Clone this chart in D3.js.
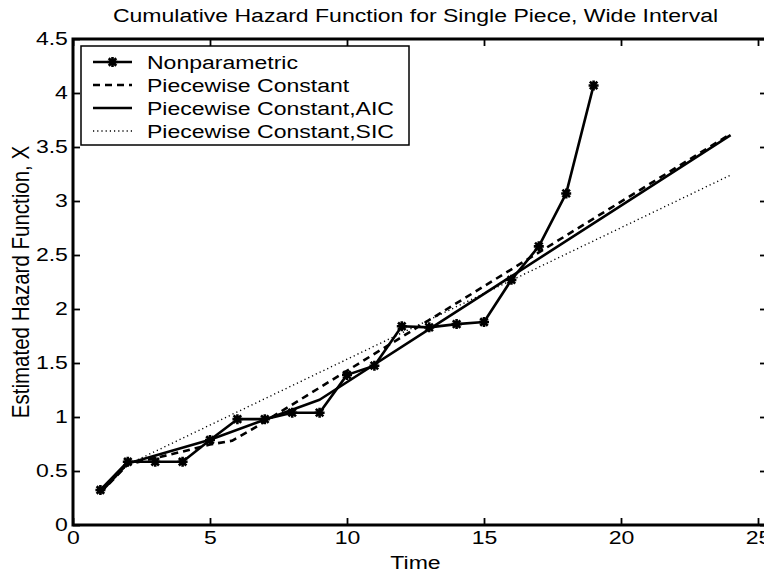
<!DOCTYPE html>
<html>
<head>
<meta charset="utf-8">
<script src="https://cdn.jsdelivr.net/npm/d3@7"></script>
<style>
    body { margin: 0; background: #fff; }
    svg { display: block; }
    text { font-family: "Liberation Sans", Arial, Helvetica, sans-serif; fill: #000; }
</style>
</head>
<body>
<svg id="chart" width="764" height="575"></svg>
<script>
// values
const times = [1, 2, 3, 4, 5, 6, 7, 8, 9, 10, 11, 12, 13, 14, 15, 16, 17, 18, 19];
const nonparametric = [0.324, 0.586, 0.586, 0.586, 0.787, 0.98, 0.98, 1.04, 1.04, 1.39, 1.475, 1.84, 1.83, 1.86, 1.88, 2.27, 2.58, 3.07, 4.07];

const pcTimes = [1, 2, 3, 4, 5, 5.8, 6.5, 24];
const pcValues = [0.30, 0.56, 0.62, 0.68, 0.745, 0.78, 0.88, 3.62];

const aicTimes = [1, 2, 5, 9, 24];
const aicValues = [0.30, 0.57, 0.79, 1.16, 3.61];

const sicTimes = [1, 2, 24];
const sicValues = [0.30, 0.56, 3.24];

const xTicks = [0, 5, 10, 15, 20, 25];
const yTicks = [0, 0.5, 1, 1.5, 2, 2.5, 3, 3.5, 4, 4.5];

const seriesNames = ["Nonparametric", "Piecewise Constant", "Piecewise Constant,AIC", "Piecewise Constant,SIC"];

// the picture is stretched sideways, so text gets a horizontal scale
const stretch = 1.28;
const fontSize = 18;

const margin = {top: 39, right: 6, bottom: 50, left: 73};
const width = 764 - margin.left - margin.right;
const height = 575 - margin.top - margin.bottom;
// the frame in the original runs off the right edge of the image
const frameRight = width + 9;

const x = d3.scaleLinear().domain([0, 25]).range([0, width]);
const y = d3.scaleLinear().domain([0, 4.5]).range([height, 0]);

const svg = d3.select("#chart");
const chart = svg.append("g")
    .attr("transform", "translate(" + margin.left + "," + margin.top + ")");

// axes, ticks inside on all four sides
const fmt = d3.format("~g");
function styleAxis(g){
    g.select(".domain").remove();
    g.selectAll(".tick line").attr("stroke-width", 1.8);
    g.selectAll(".tick text")
        .style("font-size", fontSize + "px")
        .style("font-family", "Liberation Sans, Arial, sans-serif")
        .attr("fill", "#000");
}

chart.append("g")
    .attr("transform", "translate(0," + height + ")")
    .call(d3.axisBottom(x).tickValues(xTicks).tickFormat(fmt).tickSizeInner(-7).tickSizeOuter(0).tickPadding(6))
    .call(styleAxis)
    .selectAll(".tick text").attr("transform", "scale(" + stretch + ",1)");

chart.append("g")
    .call(d3.axisLeft(y).tickValues(yTicks).tickFormat(fmt).tickSizeInner(-7).tickSizeOuter(0).tickPadding(4))
    .call(styleAxis)
    .selectAll(".tick text").attr("transform", "scale(" + stretch + ",1)");

chart.append("g")
    .call(d3.axisTop(x).tickValues(xTicks).tickFormat("").tickSizeInner(-7).tickSizeOuter(0))
    .call(styleAxis);

chart.append("g")
    .attr("transform", "translate(" + frameRight + ",0)")
    .call(d3.axisRight(y).tickValues(yTicks).tickFormat("").tickSizeInner(-7).tickSizeOuter(0))
    .call(styleAxis);

// frame
chart.append("path")
    .attr("d", "M" + frameRight + ",0H0V" + height + "H" + frameRight)
    .attr("fill", "none")
    .attr("stroke", "#000")
    .attr("stroke-width", 3);

// lines
const line = d3.line().x(d => x(d[0])).y(d => y(d[1]));

const styles = [
    {dash: null, w: 2.6},
    {dash: "7,5", w: 2.6},
    {dash: null, w: 2.6},
    {dash: "1.2,3", w: 1.4}
];

const seriesData = [
    d3.zip(times, nonparametric),
    d3.zip(pcTimes, pcValues),
    d3.zip(aicTimes, aicValues),
    d3.zip(sicTimes, sicValues)
];

// draw dotted first so the heavy lines sit on top
[3, 1, 2, 0].forEach(i => {
    chart.append("path")
        .datum(seriesData[i])
        .attr("fill", "none")
        .attr("stroke", "#000")
        .attr("stroke-width", styles[i].w)
        .attr("stroke-dasharray", styles[i].dash)
        .attr("stroke-linejoin", "round")
        .attr("d", line);
});

// asterisk markers
function asterisk(g, cx, cy, r){
    const p = d3.path();
    p.moveTo(cx - r, cy); p.lineTo(cx + r, cy);
    p.moveTo(cx, cy - r); p.lineTo(cx, cy + r);
    const k = r * 0.75;
    p.moveTo(cx - k, cy - k); p.lineTo(cx + k, cy + k);
    p.moveTo(cx - k, cy + k); p.lineTo(cx + k, cy - k);
    g.append("path")
        .attr("d", p.toString())
        .attr("stroke", "#000")
        .attr("stroke-width", 2.6)
        .attr("fill", "none");
}

const markers = chart.append("g");
seriesData[0].forEach(d => asterisk(markers, x(d[0]), y(d[1]), 5));

// legend
const legend = svg.append("g").attr("transform", "translate(81,46)");
legend.append("rect")
    .attr("width", 328).attr("height", 99)
    .attr("fill", "#fff").attr("stroke", "#000").attr("stroke-width", 1.5);

seriesNames.forEach((name, i) => {
    const ry = 16 + i * 23;
    legend.append("line")
        .attr("x1", 12).attr("x2", 51).attr("y1", ry).attr("y2", ry)
        .attr("stroke", "#000")
        .attr("stroke-width", styles[i].w)
        .attr("stroke-dasharray", styles[i].dash);
    if (i === 0) asterisk(legend, 31.5, ry, 5);
    legend.append("g")
        .attr("transform", "translate(66," + (ry + 6.5) + ")")
        .append("text")
        .attr("transform", "scale(" + stretch + ",1)")
        .style("font-size", fontSize + "px")
        .text(name);
});

// title and axis labels
svg.append("g")
    .attr("transform", "translate(" + (margin.left + width / 2) + ",22)")
    .append("text")
    .attr("text-anchor", "middle")
    .attr("transform", "scale(" + stretch + ",1)")
    .style("font-size", fontSize + "px")
    .text("Cumulative Hazard Function for Single Piece, Wide Interval");

svg.append("g")
    .attr("transform", "translate(" + (margin.left + width / 2) + ",569)")
    .append("text")
    .attr("text-anchor", "middle")
    .attr("transform", "scale(" + stretch + ",1)")
    .style("font-size", fontSize + "px")
    .text("Time");

svg.append("g")
    .attr("transform", "translate(29," + (margin.top + height / 2) + ") rotate(-90)")
    .append("text")
    .attr("text-anchor", "middle")
    .attr("transform", "scale(1.14," + stretch + ")")
    .style("font-size", fontSize + "px")
    .text("Estimated Hazard Function, X");
</script>
</body>
</html>
